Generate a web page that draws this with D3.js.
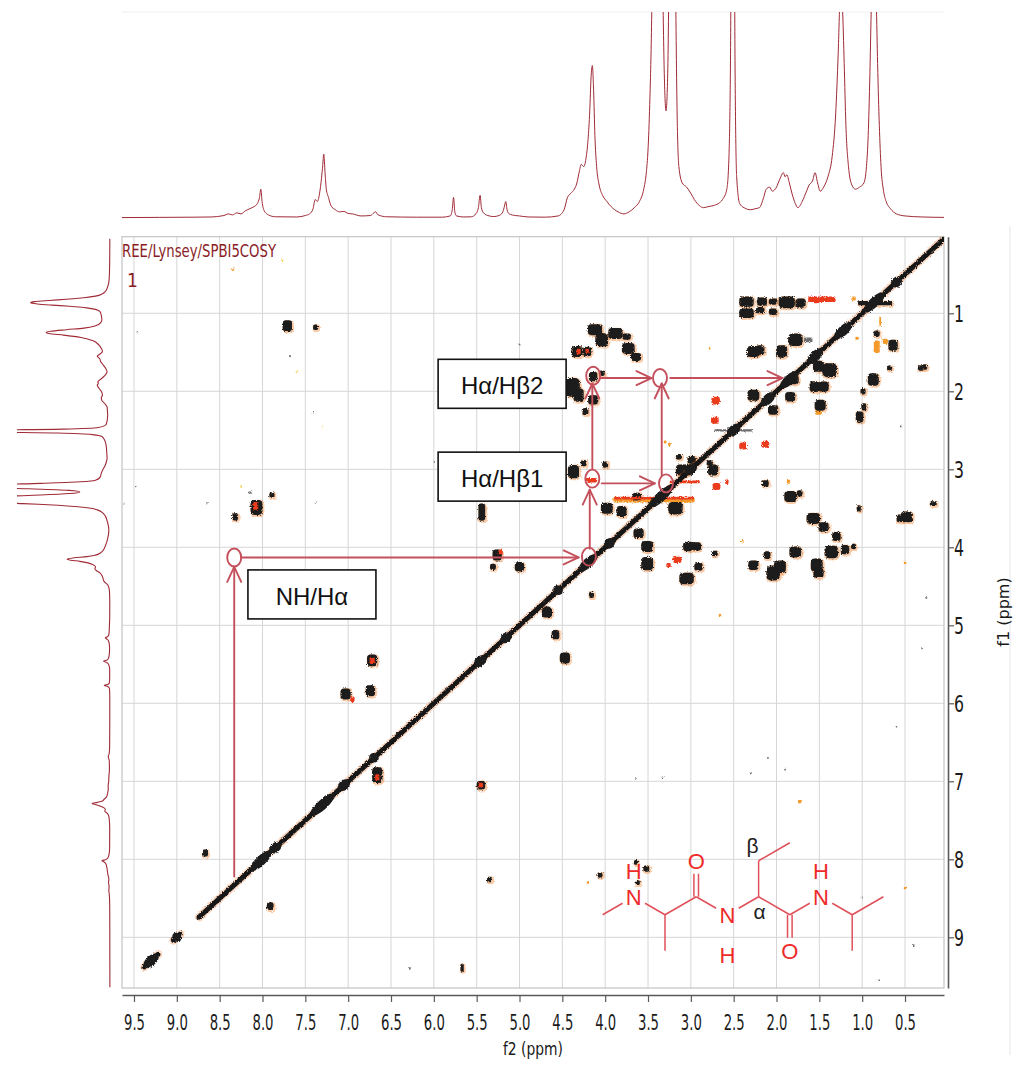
<!DOCTYPE html>
<html>
<head>
<meta charset="utf-8">
<script src="https://cdn.jsdelivr.net/npm/d3@7"></script>
<style>
  html, body { margin: 0; padding: 0; background: #fff; }
  svg { display: block; }
</style>
</head>
<body>
<svg id="chart" width="1024" height="1071"></svg>
<script>
// f2 / f1 window of the COSY plot (ppm)
const f2Domain = [9.64, 0.045];
const f1Domain = [0.018, 9.65];

const f2Ticks = [9.5, 9.0, 8.5, 8.0, 7.5, 7.0, 6.5, 6.0, 5.5, 5.0, 4.5, 4.0, 3.5, 3.0, 2.5, 2.0, 1.5, 1.0, 0.5];
const f2MinorTicks = [9.25, 8.75, 8.25, 7.75, 7.25, 6.75, 6.25, 5.75, 5.25, 4.75, 4.25, 3.75, 3.25, 2.75, 2.25, 1.75, 1.25, 0.75, 0.25];
const f1Ticks = [1, 2, 3, 4, 5, 6, 7, 8, 9];
const f1MinorTicks = [0.5, 1.5, 2.5, 3.5, 4.5, 5.5, 6.5, 7.5, 8.5, 9.5];

// 1D proton spectrum [ppm, intensity], 1 = top of the projection window
const spectrum1D = [
  [9.64, 0.002], [9.2, 0.003], [8.8, 0.004], [8.6, 0.005], [8.45, 0.012], [8.4, 0.02], [8.35, 0.015],
  [8.3, 0.025], [8.25, 0.02], [8.2, 0.035], [8.15, 0.045], [8.1, 0.055], [8.06, 0.07], [8.035, 0.1],
  [8.02, 0.14], [8.005, 0.08], [7.98, 0.035], [7.93, 0.015], [7.85, 0.006], [7.6, 0.005], [7.5, 0.012],
  [7.45, 0.02], [7.41, 0.045], [7.385, 0.09], [7.36, 0.08], [7.33, 0.13], [7.3, 0.24], [7.285, 0.31],
  [7.27, 0.22], [7.255, 0.14], [7.23, 0.1], [7.2, 0.06], [7.15, 0.04], [7.1, 0.03], [7.05, 0.032],
  [7.0, 0.022], [6.95, 0.02], [6.85, 0.01], [6.74, 0.012], [6.7, 0.025], [6.68, 0.03], [6.65, 0.015],
  [6.55, 0.006], [6.2, 0.004], [5.9, 0.004], [5.81, 0.01], [5.785, 0.04], [5.77, 0.1], [5.755, 0.03],
  [5.735, 0.01], [5.65, 0.005], [5.56, 0.006], [5.51, 0.02], [5.48, 0.05], [5.46, 0.11], [5.445, 0.05],
  [5.42, 0.025], [5.37, 0.012], [5.3, 0.007], [5.24, 0.012], [5.2, 0.025], [5.18, 0.05], [5.16, 0.08],
  [5.145, 0.04], [5.12, 0.02], [5.05, 0.012], [5.0, 0.01], [4.9, 0.005], [4.7, 0.004], [4.55, 0.01],
  [4.48, 0.04], [4.44, 0.1], [4.4, 0.12], [4.36, 0.14], [4.33, 0.17], [4.3, 0.23], [4.28, 0.26],
  [4.25, 0.25], [4.22, 0.3], [4.2, 0.38], [4.18, 0.52], [4.165, 0.68], [4.15, 0.74], [4.135, 0.62],
  [4.12, 0.4], [4.1, 0.25], [4.07, 0.16], [4.03, 0.11], [3.98, 0.08], [3.93, 0.055], [3.85, 0.03],
  [3.78, 0.02], [3.72, 0.03], [3.66, 0.05], [3.6, 0.08], [3.55, 0.14], [3.52, 0.22], [3.5, 0.33],
  [3.48, 0.55], [3.46, 0.9], [3.44, 1.5], [3.42, 2.0], [3.38, 2.2], [3.35, 1.9], [3.33, 1.2], [3.31, 0.7],
  [3.29, 0.52], [3.27, 0.7], [3.25, 1.4], [3.23, 2.2], [3.2, 2.0], [3.18, 1.2], [3.16, 0.5],
  [3.14, 0.25], [3.1, 0.17], [3.05, 0.15], [3.0, 0.12], [2.96, 0.09], [2.9, 0.06], [2.85, 0.05],
  [2.8, 0.055], [2.74, 0.06], [2.68, 0.07], [2.63, 0.09], [2.58, 0.14], [2.555, 0.3], [2.535, 0.9],
  [2.52, 2.2], [2.5, 2.2], [2.485, 0.8], [2.465, 0.2], [2.43, 0.07], [2.38, 0.05], [2.3, 0.04],
  [2.25, 0.045], [2.2, 0.05], [2.15, 0.1], [2.12, 0.14], [2.08, 0.15], [2.05, 0.13], [2.0, 0.15],
  [1.96, 0.19], [1.92, 0.22], [1.9, 0.2], [1.88, 0.21], [1.85, 0.17], [1.82, 0.12], [1.78, 0.07],
  [1.75, 0.05], [1.7, 0.08], [1.65, 0.13], [1.62, 0.16], [1.58, 0.18], [1.55, 0.22], [1.52, 0.17],
  [1.49, 0.13], [1.45, 0.15], [1.4, 0.2], [1.35, 0.3], [1.31, 0.5], [1.28, 0.8], [1.26, 1.05],
  [1.245, 1.1], [1.23, 1.02], [1.21, 0.75], [1.19, 0.45], [1.16, 0.25], [1.12, 0.16], [1.08, 0.14],
  [1.03, 0.15], [0.98, 0.17], [0.95, 0.25], [0.93, 0.4], [0.91, 0.7], [0.895, 1.0], [0.88, 1.25],
  [0.865, 1.37], [0.85, 1.3], [0.835, 1.05], [0.82, 0.75], [0.8, 0.45], [0.78, 0.25], [0.75, 0.13],
  [0.72, 0.08], [0.67, 0.045], [0.6, 0.02], [0.5, 0.01], [0.3, 0.005], [0.045, 0.003],
];

// cross peaks [f2, f1, width f2, width f1] in ppm
const blackPeaks = [
  [2.35, 0.85, 0.15, 0.11], [2.17, 0.85, 0.1, 0.085], [2.04, 0.85, 0.08, 0.06], [1.88, 0.86, 0.17, 0.13],
  [1.72, 0.87, 0.1, 0.1], [0.85, 0.87, 0.38, 0.035], [2.35, 1.0, 0.15, 0.1], [2.19, 0.96, 0.08, 0.06],
  [2.04, 0.98, 0.08, 0.06], [4.12, 1.21, 0.15, 0.12], [4.04, 1.34, 0.13, 0.15], [3.88, 1.26, 0.15, 0.12],
  [3.75, 1.3, 0.08, 0.06], [3.73, 1.45, 0.13, 0.12], [3.64, 1.56, 0.1, 0.08], [4.33, 1.49, 0.11, 0.12],
  [4.21, 1.49, 0.08, 0.1], [4.38, 1.95, 0.15, 0.22], [4.31, 2.05, 0.1, 0.15], [4.14, 1.81, 0.08, 0.1],
  [4.14, 2.11, 0.1, 0.1], [4.23, 2.26, 0.05, 0.07], [4.04, 1.77, 0.05, 0.05], [1.78, 1.34, 0.15, 0.14],
  [1.94, 1.49, 0.11, 0.14], [2.27, 1.49, 0.13, 0.12], [2.19, 1.47, 0.08, 0.1], [1.38, 1.73, 0.15, 0.16],
  [1.51, 1.68, 0.11, 0.12], [1.55, 1.94, 0.11, 0.12], [1.45, 1.94, 0.1, 0.11], [1.8, 1.85, 0.1, 0.1],
  [2.27, 2.05, 0.12, 0.12], [2.04, 2.24, 0.1, 0.1], [1.84, 2.07, 0.1, 0.1], [1.49, 2.18, 0.11, 0.12],
  [0.64, 1.41, 0.09, 0.12], [0.83, 1.26, 0.05, 0.06], [0.87, 1.85, 0.11, 0.14], [0.99, 2.0, 0.04, 0.06],
  [0.98, 2.2, 0.04, 0.07], [1.03, 2.33, 0.07, 0.12], [0.32, 1.7, 0.04, 0.05], [0.27, 1.69, 0.04, 0.05],
  [0.68, 1.7, 0.04, 0.04], [3.09, 3.01, 0.15, 0.12], [2.99, 2.88, 0.08, 0.08], [2.74, 3.01, 0.1, 0.12],
  [3.14, 2.84, 0.05, 0.05], [2.78, 2.92, 0.05, 0.05], [3.18, 3.5, 0.15, 0.14], [3.63, 3.35, 0.08, 0.08],
  [3.81, 3.54, 0.1, 0.12], [3.98, 3.5, 0.12, 0.12], [4.37, 3.03, 0.11, 0.15], [4.25, 2.92, 0.05, 0.06],
  [4.0, 2.94, 0.05, 0.06], [3.61, 3.82, 0.1, 0.1], [3.51, 3.99, 0.12, 0.12], [3.51, 4.21, 0.12, 0.15],
  [4.16, 4.61, 0.04, 0.06], [3.05, 4.4, 0.15, 0.13], [3.03, 3.99, 0.1, 0.1], [2.93, 3.99, 0.08, 0.09],
  [2.91, 4.25, 0.08, 0.08], [2.72, 4.08, 0.05, 0.05], [2.13, 3.18, 0.06, 0.06], [1.84, 3.35, 0.12, 0.12],
  [1.73, 3.31, 0.05, 0.06], [1.57, 3.63, 0.14, 0.12], [1.45, 3.74, 0.1, 0.1], [1.3, 3.86, 0.08, 0.1],
  [2.11, 4.1, 0.06, 0.08], [2.27, 4.23, 0.1, 0.1], [2.04, 4.33, 0.14, 0.17], [1.96, 4.25, 0.12, 0.14],
  [1.78, 4.06, 0.12, 0.12], [1.53, 4.23, 0.12, 0.15], [1.51, 4.33, 0.1, 0.1], [1.36, 4.06, 0.14, 0.14],
  [1.2, 4.03, 0.08, 0.1], [1.1, 3.99, 0.04, 0.05], [0.48, 3.61, 0.12, 0.12], [0.56, 3.63, 0.06, 0.08],
  [0.17, 3.44, 0.06, 0.04], [1.04, 3.5, 0.03, 0.06], [7.71, 1.16, 0.09, 0.12], [8.07, 3.49, 0.12, 0.17],
  [7.89, 3.33, 0.04, 0.05], [8.32, 3.61, 0.05, 0.07], [5.44, 3.55, 0.06, 0.2], [5.26, 4.1, 0.09, 0.12],
  [5.0, 4.25, 0.09, 0.1], [5.31, 4.25, 0.05, 0.06], [4.68, 4.83, 0.1, 0.12], [4.58, 5.12, 0.07, 0.1],
  [4.47, 5.42, 0.1, 0.12], [6.72, 5.45, 0.1, 0.13], [7.03, 5.88, 0.1, 0.12], [6.74, 5.84, 0.09, 0.12],
  [6.66, 6.92, 0.1, 0.18], [7.91, 8.6, 0.06, 0.08], [8.67, 7.92, 0.05, 0.07], [5.35, 8.26, 0.04, 0.05],
  [5.67, 9.39, 0.02, 0.08], [5.45, 7.05, 0.08, 0.09], [4.06, 8.2, 0.04, 0.05], [3.64, 8.04, 0.03, 0.04],
  [3.52, 8.12, 0.05, 0.06], [3.62, 8.3, 0.03, 0.04], [7.38, 1.18, 0.04, 0.05],
];
const redPeaks = [
  [1.47, 0.82, 0.32, 0.07], [1.53, 0.83, 0.09, 0.08], [4.31, 1.49, 0.05, 0.07], [4.21, 1.48, 0.04, 0.06],
  [2.71, 2.12, 0.1, 0.1], [2.72, 2.37, 0.09, 0.09], [2.39, 2.7, 0.09, 0.09], [2.13, 2.68, 0.09, 0.09],
  [2.7, 3.22, 0.09, 0.09], [2.58, 3.16, 0.04, 0.06], [3.43, 3.37, 0.93, 0.035], [4.16, 3.14, 0.13, 0.06],
  [3.07, 3.16, 0.35, 0.035], [3.26, 4.23, 0.05, 0.06], [3.16, 4.16, 0.1, 0.08], [8.08, 3.47, 0.06, 0.1],
  [5.22, 4.06, 0.05, 0.06], [6.72, 5.45, 0.06, 0.09], [6.95, 5.95, 0.05, 0.07], [6.66, 6.95, 0.05, 0.08],
  [5.45, 7.05, 0.05, 0.06],
];
const orangePeaks = [
  [1.1, 0.81, 0.05, 0.05], [0.79, 1.1, 0.02, 0.12], [0.83, 1.43, 0.07, 0.16], [1.06, 1.32, 0.04, 0.04],
  [0.73, 1.36, 0.06, 0.07], [1.51, 2.27, 0.08, 0.06], [3.43, 3.39, 0.95, 0.07], [1.86, 3.16, 0.04, 0.05],
  [2.78, 1.45, 0.02, 0.03], [3.3, 2.65, 0.03, 0.04], [3.25, 2.68, 0.03, 0.04], [0.5, 4.2, 0.03, 0.03],
  [2.4, 3.92, 0.03, 0.03], [8.35, 0.44, 0.04, 0.03], [1.73, 7.26, 0.04, 0.04], [2.66, 4.87, 0.03, 0.03],
  [4.2, 8.3, 0.03, 0.03], [0.5, 8.37, 0.03, 0.03],
];
const yellowPeaks = [
  [7.6, 1.75, 0.02, 0.03], [7.77, 0.32, 0.02, 0.02], [8.25, 3.22, 0.02, 0.03], [7.3, 2.45, 0.015, 0.02],
];
const grayPeaks = [
  [7.68, 1.55, 0.02, 0.03], [9.46, 1.24, 0.02, 0.02], [7.41, 2.27, 0.02, 0.02], [9.62, 3.44, 0.015, 0.02],
  [9.48, 3.22, 0.015, 0.02], [8.65, 3.43, 0.02, 0.02], [7.38, 3.43, 0.02, 0.02], [6.28, 9.4, 0.02, 0.03],
  [0.8, 9.55, 0.02, 0.02], [3.64, 6.97, 0.02, 0.02], [3.33, 6.95, 0.02, 0.02], [2.1, 6.7, 0.02, 0.02],
  [2.3, 6.9, 0.02, 0.02], [1.9, 6.85, 0.02, 0.02], [1.0, 8.5, 0.02, 0.02], [0.4, 9.1, 0.02, 0.02],
  [2.5, 2.5, 0.45, 0.03], [1.63, 1.34, 0.1, 0.06], [8.14, 3.3, 0.05, 0.03], [5.0, 1.4, 0.02, 0.02],
  [6.0, 2.9, 0.02, 0.02], [4.9, 3.2, 0.02, 0.02], [0.3, 5.3, 0.02, 0.02], [0.6, 6.3, 0.02, 0.02],
  [0.25, 4.65, 0.02, 0.02], [0.55, 2.45, 0.02, 0.02],
];

// diagonal: continuous runs [from, to] and stronger diagonal peaks [ppm, length]
const diagonalRuns = [[9.38, 9.22], [9.04, 8.96], [8.74, 0.045]];
const diagonalPeaks = [
  [9.3, 0.16], [9.0, 0.07], [8.02, 0.25], [7.85, 0.12], [7.3, 0.28], [7.05, 0.12], [6.7, 0.08],
  [5.46, 0.12], [5.16, 0.1], [4.55, 0.08], [4.2, 0.2], [3.95, 0.1], [3.35, 0.3], [3.0, 0.12],
  [2.5, 0.14], [2.1, 0.15], [1.85, 0.2], [1.55, 0.18], [1.22, 0.2], [0.86, 0.25], [0.6, 0.1],
];

// assignment walk: circles [f2, f1], arrows [f2 start, f1 start, f2 end, f1 end]
const markCircles = [[8.33, 4.13], [4.19, 4.12], [4.15, 3.12], [3.29, 3.18], [4.14, 1.8], [3.36, 1.83]];
const markArrows = [
  [8.33, 8.22, 8.33, 4.25], [8.25, 4.13, 4.31, 4.13], [4.18, 4.02, 4.18, 3.26], [4.15, 3.0, 4.15, 1.9],
  [4.04, 3.18, 3.42, 3.18], [3.34, 3.08, 3.34, 1.9], [4.06, 1.83, 3.46, 1.83], [3.24, 1.83, 1.93, 1.83],
];
const labelBoxes = [
  { text: "Hα/Hβ2", f2: 5.95, f1: 1.59 },
  { text: "Hα/Hβ1", f2: 5.95, f1: 2.78 },
  { text: "NH/Hα", f2: 8.17, f1: 4.29 },
];

// molecule sketch: atoms [column, level, label], bonds [a, b, order]
const molAtoms = [
  [0, 1, ""], [1, 0, "N"], [2, 1, ""], [2, 3, ""], [3, 0, ""], [3, -2, "O"], [4, 1, "N"], [5, 0, ""],
  [5, -2, ""], [6, -3, ""], [6, 1, ""], [6, 3, "O"], [7, 0, "N"], [8, 1, ""], [9, 0, ""], [8, 3, ""],
];
const molBonds = [
  [0, 1, 1], [1, 2, 1], [2, 3, 1], [2, 4, 1], [4, 5, 2], [4, 6, 1], [6, 7, 1], [7, 8, 1], [8, 9, 1],
  [7, 10, 1], [10, 11, 2], [10, 12, 1], [12, 13, 1], [13, 14, 1], [13, 15, 1],
];
const molHydrogens = [[1, -1.45], [6, 2.25], [12, -1.45]];
const molGreek = [{ atom: 8, text: "β", dx: -6, dy: -15 }, { atom: 7, text: "α", dx: 1, dy: 15 }];

(() => {
  const SPEC_COLOR = "#a02a36";
  const GRID_COLOR = "#d6d6d6";
  const AXIS_COLOR = "#5a5a5a";
  const MARK_COLOR = "#c4505c";
  const MOL_COLOR = "#ee2a2a";
  const MOL_BOND = "#e0505a";
  const TICK_FONT = "'DejaVu Sans Condensed', 'DejaVu Sans', sans-serif";

  const svg = d3.select("#chart");
  const defs = svg.append("defs");

  const x = d3.scaleLinear().domain(f2Domain).range([122, 944]);
  const y = d3.scaleLinear().domain(f1Domain).range([236.7, 988]);
  const topY = d3.scaleLinear().domain([0, 1]).range([218, 12]);
  const leftX = d3.scaleLinear().domain([0, 1]).range([110, 52]);

  const [px0, px1] = x.range();
  const [py0, py1] = y.range();

  defs.append("clipPath").attr("id", "clip-top")
    .append("rect").attr("x", px0).attr("y", 12).attr("width", px1 - px0).attr("height", 214);
  defs.append("clipPath").attr("id", "clip-left")
    .append("rect").attr("x", 17).attr("y", py0 - 4).attr("width", 104).attr("height", py1 - py0 + 8);
  defs.append("clipPath").attr("id", "clip-plot")
    .append("rect").attr("x", px0).attr("y", py0).attr("width", px1 - px0).attr("height", py1 - py0);

  const rough = defs.append("filter").attr("id", "rough")
    .attr("x", "-10%").attr("y", "-10%").attr("width", "120%").attr("height", "120%");
  rough.append("feTurbulence").attr("type", "fractalNoise").attr("baseFrequency", 0.8)
    .attr("numOctaves", 1).attr("seed", 4).attr("result", "noise");
  rough.append("feDisplacementMap").attr("in", "SourceGraphic").attr("in2", "noise")
    .attr("scale", 3.5).attr("xChannelSelector", "R").attr("yChannelSelector", "G");

  // faint panel edges
  svg.append("line").attr("x1", px0).attr("x2", px1).attr("y1", 12).attr("y2", 12)
    .attr("stroke", "#efefef");
  svg.append("line").attr("x1", 1010).attr("x2", 1010).attr("y1", 226).attr("y2", 1055)
    .attr("stroke", "#e6e6e6");

  // 1D projections
  svg.append("path")
    .datum(spectrum1D)
    .attr("clip-path", "url(#clip-top)")
    .attr("fill", "none")
    .attr("stroke", SPEC_COLOR)
    .attr("stroke-width", 1)
    .attr("d", d3.line().x((d) => x(d[0])).y((d) => topY(d[1])).curve(d3.curveMonotoneX));

  svg.append("path")
    .datum(spectrum1D.slice().reverse())
    .attr("clip-path", "url(#clip-left)")
    .attr("fill", "none")
    .attr("stroke", SPEC_COLOR)
    .attr("stroke-width", 1.1)
    .attr("d", d3.line().x((d) => leftX(d[1])).y((d) => y(d[0])).curve(d3.curveMonotoneY));

  // grid
  const grid = svg.append("g");
  grid.selectAll("line.vg").data(f2Ticks).enter().append("line")
    .attr("x1", (d) => x(d)).attr("x2", (d) => x(d)).attr("y1", py0).attr("y2", py1)
    .attr("stroke", GRID_COLOR).attr("stroke-width", 1);
  grid.selectAll("line.hg").data(f1Ticks).enter().append("line")
    .attr("x1", px0).attr("x2", px1).attr("y1", (d) => y(d)).attr("y2", (d) => y(d))
    .attr("stroke", GRID_COLOR).attr("stroke-width", 1);
  svg.append("rect").attr("x", px0).attr("y", py0).attr("width", px1 - px0).attr("height", py1 - py0)
    .attr("fill", "none").attr("stroke", "#c4c4c4").attr("stroke-width", 1.2);

  // cross peaks
  function box(d) {
    const [f2, f1, dw, dh] = d;
    const xa = x(f2 + dw / 2);
    const xb = x(f2 - dw / 2);
    const ya = y(f1 - dh / 2);
    const yb = y(f1 + dh / 2);
    return { x: xa, y: ya, w: Math.max(xb - xa, 1.4), h: Math.max(yb - ya, 1.4) };
  }

  function drawPeaks(layer, data, fill, pad = 0, dx = 0, dy = 0, opacity = 1) {
    layer.append("g").selectAll("rect").data(data).enter().append("rect")
      .attr("x", (d) => box(d).x - pad + dx)
      .attr("y", (d) => box(d).y - pad + dy)
      .attr("width", (d) => box(d).w + 2 * pad)
      .attr("height", (d) => box(d).h + 2 * pad)
      .attr("rx", (d) => Math.min(box(d).w, box(d).h) * 0.32 + pad)
      .attr("fill", fill)
      .attr("fill-opacity", opacity);
  }

  const peaks = svg.append("g").attr("clip-path", "url(#clip-plot)")
    .append("g").attr("filter", "url(#rough)");
  drawPeaks(peaks, blackPeaks, "#ee7a22", 2, 0.8, 0.8, 0.4);
  drawPeaks(peaks, orangePeaks, "#f39a2c");
  drawPeaks(peaks, yellowPeaks, "#f2cc45");
  drawPeaks(peaks, grayPeaks, "#6e6e6e");
  drawPeaks(peaks, blackPeaks, "#1e1e1e", 0.8);
  drawPeaks(peaks, redPeaks, "#ea3a1e");

  // diagonal
  const diag = svg.append("g").attr("clip-path", "url(#clip-plot)")
    .append("g").attr("filter", "url(#rough)");
  diag.selectAll("line.halo").data(diagonalRuns).enter().append("line")
    .attr("x1", (d) => x(d[0])).attr("y1", (d) => y(d[0]))
    .attr("x2", (d) => x(d[1])).attr("y2", (d) => y(d[1]))
    .attr("stroke", "#ec6a1e").attr("stroke-opacity", 0.3).attr("stroke-width", 8)
    .attr("stroke-linecap", "round");
  diag.selectAll("line.core").data(diagonalRuns).enter().append("line")
    .attr("x1", (d) => x(d[0])).attr("y1", (d) => y(d[0]))
    .attr("x2", (d) => x(d[1])).attr("y2", (d) => y(d[1]))
    .attr("stroke", "#181818").attr("stroke-width", 5)
    .attr("stroke-linecap", "round");
  const diagAngle = (Math.atan2(y(0) - y(1), x(0) - x(1)) * 180) / Math.PI;
  diag.selectAll("ellipse").data(diagonalPeaks).enter().append("ellipse")
    .attr("cx", (d) => x(d[0])).attr("cy", (d) => y(d[0]))
    .attr("rx", (d) => Math.hypot(x(0) - x(d[1]), y(0) - y(d[1])) / 2)
    .attr("ry", 5)
    .attr("transform", (d) => `rotate(${diagAngle},${x(d[0])},${y(d[0])})`)
    .attr("fill", "#1a1a1a");

  // axes
  const bottom = svg.append("g").attr("transform", "translate(0,995)");
  bottom.call(d3.axisBottom(x).tickValues(f2MinorTicks).tickSize(4).tickSizeOuter(0).tickFormat(""));
  bottom.call(d3.axisBottom(x).tickValues(f2Ticks).tickSize(7).tickSizeOuter(0)
    .tickFormat(d3.format(".1f")));
  bottom.selectAll("path.domain").attr("stroke", AXIS_COLOR).attr("stroke-width", 1.6);
  bottom.selectAll(".tick line").attr("stroke", AXIS_COLOR).attr("stroke-width", 1.2);
  bottom.selectAll(".tick text")
    .attr("y", 35).attr("dy", 0)
    .attr("font-family", TICK_FONT).attr("font-size", 22).attr("fill", "#1a1a1a")
    .attr("textLength", 21).attr("lengthAdjust", "spacingAndGlyphs");
  svg.append("text").attr("x", 533).attr("y", 1055).attr("text-anchor", "middle")
    .attr("font-family", TICK_FONT).attr("font-size", 18).attr("fill", "#1a1a1a")
    .attr("textLength", 60).attr("lengthAdjust", "spacingAndGlyphs")
    .text("f2 (ppm)");

  const right = svg.append("g").attr("transform", "translate(948,0)");
  right.call(d3.axisRight(y).tickValues(f1MinorTicks).tickSize(3).tickSizeOuter(0).tickFormat(""));
  right.call(d3.axisRight(y).tickValues(f1Ticks).tickSize(6).tickSizeOuter(0).tickFormat(d3.format("d")));
  right.selectAll("path.domain").attr("stroke", AXIS_COLOR).attr("stroke-width", 1.6);
  right.selectAll(".tick line").attr("stroke", AXIS_COLOR).attr("stroke-width", 1.2);
  right.selectAll(".tick text")
    .attr("x", 6).attr("dy", "0.36em")
    .attr("font-family", TICK_FONT).attr("font-size", 23).attr("fill", "#1a1a1a")
    .attr("textLength", 10).attr("lengthAdjust", "spacingAndGlyphs");
  svg.append("text").attr("transform", "translate(1009,612) rotate(-90)").attr("text-anchor", "middle")
    .attr("font-family", "'DejaVu Sans', sans-serif").attr("font-size", 16).attr("fill", "#1a1a1a")
    .text("f1 (ppm)");

  // data set label
  svg.append("text").attr("x", 122).attr("y", 257)
    .attr("font-family", TICK_FONT).attr("font-size", 17).attr("fill", "#8a1c26")
    .attr("textLength", 154).attr("lengthAdjust", "spacingAndGlyphs")
    .text("REE/Lynsey/SPBI5COSY");
  svg.append("text").attr("x", 127).attr("y", 287)
    .attr("font-family", TICK_FONT).attr("font-size", 19).attr("fill", "#8a1c26")
    .text("1");

  // assignment arrows and circles
  function arrowHead(x1, y1, x2, y2, len = 15, half = 7) {
    const a = Math.atan2(y2 - y1, x2 - x1);
    const bx = x2 - len * Math.cos(a);
    const by = y2 - len * Math.sin(a);
    const ox = -Math.sin(a) * half;
    const oy = Math.cos(a) * half;
    return `M${bx + ox},${by + oy}L${x2},${y2}L${bx - ox},${by - oy}`;
  }

  const marks = svg.append("g").attr("fill", "none").attr("stroke", MARK_COLOR)
    .attr("stroke-width", 1.9).attr("stroke-linejoin", "round").attr("stroke-linecap", "round");
  marks.selectAll("line").data(markArrows).enter().append("line")
    .attr("x1", (d) => x(d[0])).attr("y1", (d) => y(d[1]))
    .attr("x2", (d) => x(d[2])).attr("y2", (d) => y(d[3]));
  marks.selectAll("path").data(markArrows).enter().append("path")
    .attr("d", (d) => arrowHead(x(d[0]), y(d[1]), x(d[2]), y(d[3])));
  marks.selectAll("ellipse").data(markCircles).enter().append("ellipse")
    .attr("cx", (d) => x(d[0])).attr("cy", (d) => y(d[1]))
    .attr("rx", 7).attr("ry", 9);

  const boxes = svg.append("g").selectAll("g").data(labelBoxes).enter().append("g")
    .attr("transform", (d) => `translate(${x(d.f2)},${y(d.f1)})`);
  boxes.append("rect").attr("width", 128).attr("height", 49)
    .attr("fill", "#fff").attr("stroke", "#111").attr("stroke-width", 1.6);
  boxes.append("text").attr("x", 64).attr("y", 35).attr("text-anchor", "middle")
    .attr("font-family", "'Liberation Sans', Arial, sans-serif").attr("font-size", 24)
    .attr("fill", "#111").text((d) => d.text);

  // molecule sketch
  const BOND_DX = 31.2;
  const BOND_DY = 18;
  const mol = svg.append("g").attr("transform", `translate(${x(4.03)},${y(8.48)})`);
  const atomXY = (a) => [a[0] * BOND_DX, a[1] * BOND_DY];

  function trimmed(a, b) {
    const [ax, ay] = atomXY(a);
    const [bx, by] = atomXY(b);
    const len = Math.hypot(bx - ax, by - ay);
    const ta = a[2] ? 13 / len : 0;
    const tb = b[2] ? 13 / len : 0;
    return [ax + (bx - ax) * ta, ay + (by - ay) * ta, bx - (bx - ax) * tb, by - (by - ay) * tb];
  }

  molBonds.forEach(([ia, ib, order]) => {
    const [x1, y1, x2, y2] = trimmed(molAtoms[ia], molAtoms[ib]);
    const offsets = order === 2 ? [-2.3, 2.3] : [0];
    const len = Math.hypot(x2 - x1, y2 - y1);
    const nx = -(y2 - y1) / len;
    const ny = (x2 - x1) / len;
    offsets.forEach((o) => {
      mol.append("line")
        .attr("x1", x1 + nx * o).attr("y1", y1 + ny * o)
        .attr("x2", x2 + nx * o).attr("y2", y2 + ny * o)
        .attr("stroke", MOL_BOND).attr("stroke-width", 1.5);
    });
  });

  mol.selectAll("text.atom").data(molAtoms.filter((a) => a[2])).enter().append("text")
    .attr("x", (d) => atomXY(d)[0]).attr("y", (d) => atomXY(d)[1]).attr("dy", "0.36em")
    .attr("text-anchor", "middle")
    .attr("font-family", "'Liberation Sans', Arial, sans-serif").attr("font-size", 22)
    .attr("fill", MOL_COLOR).text((d) => d[2]);
  mol.selectAll("text.h").data(molHydrogens).enter().append("text")
    .attr("x", (d) => atomXY(molAtoms[d[0]])[0])
    .attr("y", (d) => atomXY(molAtoms[d[0]])[1] + d[1] * BOND_DY).attr("dy", "0.36em")
    .attr("text-anchor", "middle")
    .attr("font-family", "'Liberation Sans', Arial, sans-serif").attr("font-size", 22)
    .attr("fill", MOL_COLOR).text("H");
  mol.selectAll("text.greek").data(molGreek).enter().append("text")
    .attr("x", (d) => atomXY(molAtoms[d.atom])[0] + d.dx)
    .attr("y", (d) => atomXY(molAtoms[d.atom])[1] + d.dy).attr("dy", "0.36em")
    .attr("text-anchor", "middle")
    .attr("font-family", "'Liberation Sans', Arial, sans-serif").attr("font-size", 21)
    .attr("fill", "#222").text((d) => d.text);
})();
</script>
</body>
</html>
